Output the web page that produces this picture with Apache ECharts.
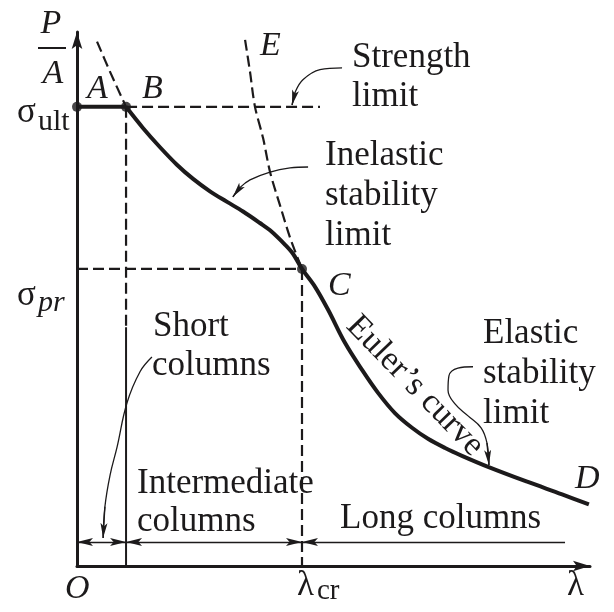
<!DOCTYPE html>
<html>
<head>
<meta charset="utf-8">
<script src="https://cdn.jsdelivr.net/npm/echarts@6/dist/echarts.min.js"></script>
<style>
  html, body { margin: 0; padding: 0; background: #ffffff; }
  #chart { width: 614px; height: 612px; }
</style>
</head>
<body>
<div id="chart"></div>
<script>
// Column-design diagram: critical stress P/A against slenderness λ.
// Units: λ scaled so that λ_cr = 100; stress normalised so that σ_ult = 1.

const LAMBDA_MAX = 228;
const STRESS_MAX = 1.163;

const lambdaB = 21.8;          // end of the strength plateau (point B)
const lambdaCr = 100;          // critical slenderness (point C)
const sigmaUlt = 1;            // ultimate strength
const sigmaPr = 0.647;         // proportional limit
const lambdaStrengthEnd = 108; // end of the dashed strength-limit line
const stressSolidBelow = 0.52; // short/intermediate boundary drawn solid below this
const dimLevel = 0.052;        // height of the column-range dimension lines
const lambdaLongEnd = 216.9;   // end of the "Long columns" dimension line

// Full column curve B -> C -> D (inelastic part, then Euler's curve)
const curveLambda = [21.8, 29.3, 36.9, 44.4, 51.6, 59.1, 66.7, 73.8, 81.3, 85.8, 92.4, 96.0, 100,
                     105.8, 111.6, 119.1, 126.7, 133.8, 141.3, 148.9, 156, 163.6, 171.1, 182.7, 200.4, 215.6, 227.5];
const curveStress = [1, 0.954, 0.912, 0.874, 0.843, 0.816, 0.793, 0.772, 0.747, 0.731, 0.700, 0.680, 0.647,
                     0.608, 0.558, 0.486, 0.427, 0.377, 0.333, 0.301, 0.277, 0.257, 0.240, 0.216, 0.183, 0.156, 0.134];

// Euler's hyperbola continued above C towards E (dashed)
const eulerExtLambda = [74.7, 76.9, 79.1, 82.7, 85.8, 90.2, 94.7, 100];
const eulerExtStress = [1.146, 1.076, 1.0, 0.932, 0.858, 0.786, 0.715, 0.647];

// Inelastic curve continued above B (dashed)
const inelasticExtLambda = [8.9, 14.9, 21.8];
const inelasticExtStress = [1.142, 1.074, 1.0];

// Leader arrows for the annotations
const strengthArrowLambda = [117.8, 108, 100.4, 96.9, 95.6];
const strengthArrowStress = [1.085, 1.081, 1.059, 1.031, 1.004];
const inelasticArrowLambda = [102.7, 94.7, 85.8, 76.9, 72.4, 69.3];
const inelasticArrowStress = [0.869, 0.867, 0.858, 0.841, 0.824, 0.804];
const elasticArrowLambda = [176, 169.3, 165.3, 164.9, 168, 173.8, 179.6, 182.2, 183.1];
const elasticArrowStress = [0.434, 0.431, 0.414, 0.383, 0.353, 0.327, 0.301, 0.268, 0.220];
const shortArrowLambda = [33.3, 28, 22.2, 17.8, 14.7, 12.4, 11.6];
const shortArrowStress = [0.455, 0.423, 0.355, 0.259, 0.198, 0.129, 0.061];

const INK = '#1c1a1b';
const SERIF = "'Liberation Serif', 'Times New Roman', serif";
// Arrowhead whose tip sits at the centre of its box, so it ends exactly on the line end
const HEAD = 'path://M0,0M4,20L8,40L4,35.5L0,40Z';
const AXIS_HEAD = 'path://M0,0M5,16L10,32L5,28.5L0,32Z';
const DASH = [11, 5];

function pairs(xs, ys) { return xs.map(function (x, i) { return [x, ys[i]]; }); }
function lastSegment(xs, ys) {
  const n = xs.length;
  return { coords: [[xs[n - 2], ys[n - 2]], [xs[n - 1], ys[n - 1]]] };
}
function plain(name, data, width, dashed, smooth) {
  return {
    type: 'line', name: name, data: data, symbol: 'none', smooth: smooth || false,
    silent: true, animation: false,
    lineStyle: { color: INK, width: width, type: dashed ? DASH : 'solid', cap: 'butt' },
    z: 3
  };
}
function txt(x, y, text, size, opts) {
  opts = opts || {};
  const align = opts.align || 'left';
  return {
    type: 'text', x: x, y: y, rotation: opts.rotation || 0, silent: true, z: 20,
    style: {
      text: text,
      font: (opts.italic ? 'italic ' : '') + size + 'px ' + SERIF,
      fill: INK,
      align: align, textAlign: align,
      verticalAlign: 'middle', textVerticalAlign: 'middle'
    }
  };
}

const chart = echarts.init(document.getElementById('chart'), null, { renderer: 'canvas' });

const axisCommon = {
  type: 'value', min: 0,
  axisLine: { show: true, onZero: false, lineStyle: { color: INK, width: 3 },
              symbol: ['none', AXIS_HEAD], symbolSize: [11, 34] },
  axisTick: { show: false }, axisLabel: { show: false }, splitLine: { show: false }
};

chart.setOption({
  animation: false,
  backgroundColor: '#ffffff',
  grid: { left: 77, top: 32, width: 513, height: 534 },
  xAxis: Object.assign({}, axisCommon, { max: LAMBDA_MAX }),
  yAxis: Object.assign({}, axisCommon, { max: STRESS_MAX }),
  series: [
    plain('Column curve', pairs(curveLambda, curveStress), 4, false, 0.35),
    plain('Euler hyperbola', pairs(eulerExtLambda, eulerExtStress), 2.2, true, 0.3),
    plain('Inelastic extension', pairs(inelasticExtLambda, inelasticExtStress), 2.2, true, 0.3),
    plain('Strength plateau', [[0, sigmaUlt], [lambdaB, sigmaUlt]], 4, false),
    plain('Strength limit', [[lambdaB, sigmaUlt], [lambdaStrengthEnd, sigmaUlt]], 2.2, true),
    plain('Proportional limit', [[0, sigmaPr], [lambdaCr, sigmaPr]], 2.2, true),
    plain('Short boundary upper', [[lambdaB, sigmaUlt], [lambdaB, stressSolidBelow]], 2.2, true),
    plain('Short boundary lower', [[lambdaB, stressSolidBelow], [lambdaB, 0]], 2, false),
    plain('Critical slenderness', [[lambdaCr, sigmaPr], [lambdaCr, 0]], 2.2, true),
    plain('Strength leader', pairs(strengthArrowLambda, strengthArrowStress), 1.3, false, 0.4),
    plain('Inelastic leader', pairs(inelasticArrowLambda, inelasticArrowStress), 1.3, false, 0.4),
    plain('Elastic leader', pairs(elasticArrowLambda, elasticArrowStress), 1.3, false, 0.4),
    plain('Short leader', pairs(shortArrowLambda, shortArrowStress), 1.3, false, 0.4),
    {
      type: 'scatter', name: 'Key points', silent: true, z: 6,
      data: [[0, sigmaUlt], [lambdaB, sigmaUlt], [lambdaCr, sigmaPr]],
      symbol: 'circle', symbolSize: 10, itemStyle: { color: INK }
    },
    {
      type: 'lines', name: 'Leader heads', coordinateSystem: 'cartesian2d', silent: true, z: 7,
      data: [
        lastSegment(strengthArrowLambda, strengthArrowStress),
        lastSegment(inelasticArrowLambda, inelasticArrowStress),
        lastSegment(elasticArrowLambda, elasticArrowStress),
        lastSegment(shortArrowLambda, shortArrowStress)
      ],
      symbol: ['none', HEAD], symbolSize: [1, [7, 30]],
      lineStyle: { color: INK, width: 1.3, opacity: 1 }
    },
    {
      type: 'lines', name: 'Range dimensions', coordinateSystem: 'cartesian2d', silent: true, z: 7,
      data: [
        { coords: [[0, dimLevel], [lambdaB, dimLevel]] },
        { coords: [[lambdaB, dimLevel], [lambdaCr, dimLevel]] }
      ],
      symbol: [HEAD, HEAD], symbolSize: [[8, 32], [8, 32]],
      lineStyle: { color: INK, width: 1.3, opacity: 1 }
    },
    {
      type: 'lines', name: 'Long range dimension', coordinateSystem: 'cartesian2d', silent: true, z: 7,
      data: [{ coords: [[lambdaCr, dimLevel], [lambdaLongEnd, dimLevel]] }],
      symbol: [HEAD, 'none'], symbolSize: [[8, 32], 1],
      lineStyle: { color: INK, width: 1.3, opacity: 1 }
    }
  ],
  graphic: [
    // axis titles
    txt(51, 24, 'P', 34, { italic: true, align: 'center' }),
    { type: 'line', silent: true, shape: { x1: 38, y1: 48, x2: 66, y2: 48 }, style: { stroke: INK, lineWidth: 2 } },
    txt(53, 74, 'A', 34, { italic: true, align: 'center' }),
    txt(567, 586, 'λ', 35),
    txt(65, 589, 'O', 34, { italic: true }),
    // stress levels
    txt(17, 113, 'σ', 35),
    txt(38, 122, 'ult', 30),
    txt(17, 296, 'σ', 35),
    txt(38, 303, 'pr', 30, { italic: true }),
    txt(297, 586, 'λ', 35),
    txt(317, 591, 'cr', 29),
    // point letters
    txt(87, 89, 'A', 34, { italic: true }),
    txt(142, 89, 'B', 34, { italic: true }),
    txt(260, 46, 'E', 34, { italic: true }),
    txt(328, 286, 'C', 34, { italic: true }),
    txt(575, 479, 'D', 34, { italic: true }),
    // annotations
    txt(352, 58, 'Strength', 35),
    txt(352, 97, 'limit', 35),
    txt(325, 156, 'Inelastic', 35),
    txt(325, 196, 'stability', 35),
    txt(325, 236, 'limit', 35),
    txt(483, 334, 'Elastic', 35),
    txt(483, 374, 'stability', 35),
    txt(483, 414, 'limit', 35),
    txt(153, 327, 'Short', 35),
    txt(152, 366, 'columns', 35),
    txt(137, 484, 'Intermediate', 35),
    txt(137, 522, 'columns', 35),
    txt(340, 519, 'Long columns', 35),
    txt(415, 386, 'Euler\u2019s curve', 34, { align: 'center', rotation: -0.8 })
  ]
});
</script>
</body>
</html>
